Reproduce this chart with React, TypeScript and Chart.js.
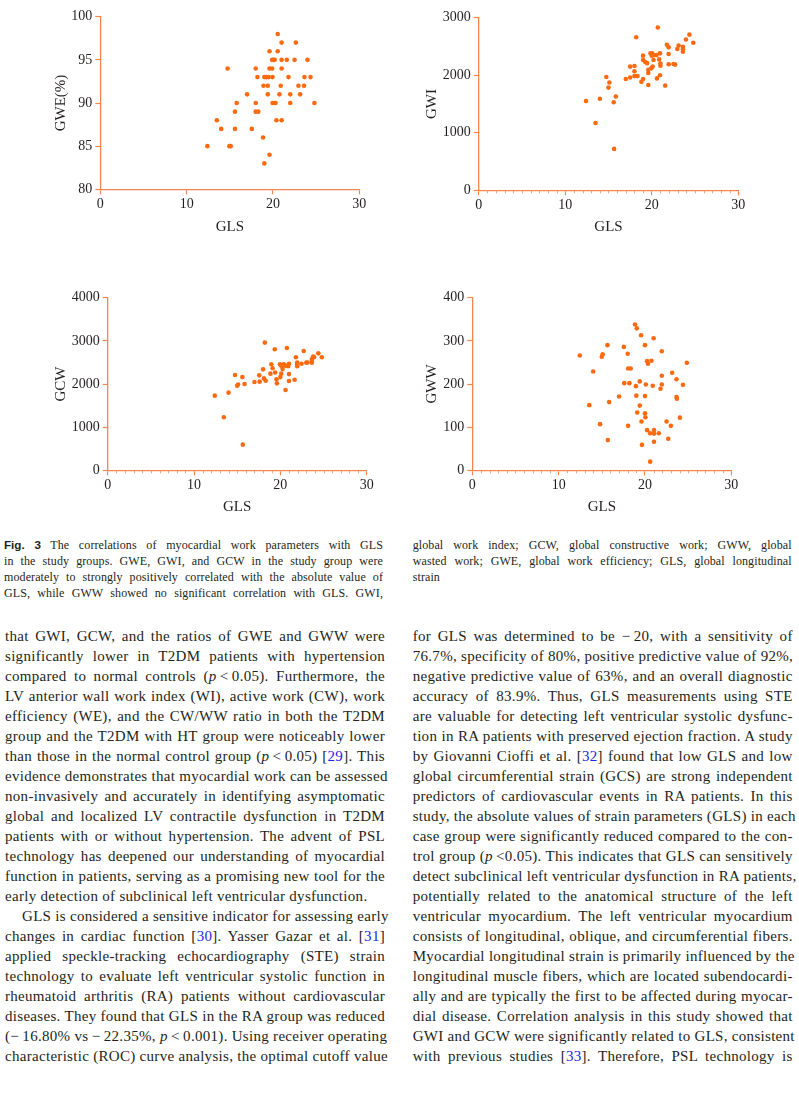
import React, { useEffect, useRef } from 'react';
import { Chart, registerables } from 'chart.js';

Chart.register(...registerables);

// ---------- data ----------
const glsTicks = [0, 10, 20, 30];
const gweTicks = [80, 85, 90, 95, 100];
const gwiTicks = [0, 1000, 2000, 3000];
const gcwTicks = [0, 1000, 2000, 3000, 4000];
const gwwTicks = [0, 100, 200, 300, 400];

const gweGLS = [12.4, 13.5, 14.0, 14.75, 14.95, 15.1, 15.6, 15.6, 15.8, 17.0, 17.55, 18.0, 18.0, 18.0, 18.3, 18.2, 18.85, 18.9, 19.0, 19.25, 19.5, 19.0, 19.4, 19.4, 19.6, 19.6, 19.9, 19.6, 19.9, 20.05, 20.2, 19.95, 19.95, 20.15, 20.3, 20.4, 20.55, 20.55, 20.75, 20.9, 21.0, 21.0, 21.0, 21.0, 21.6, 21.8, 22.0, 22.0, 22.5, 22.65, 22.95, 23.15, 23.6, 23.65, 24.0, 24.35, 24.8];
const gweValues = [85, 88, 87, 94, 85, 85, 89, 87, 90, 91, 87, 94, 90, 89, 89, 93, 86, 92, 93, 93, 93, 83, 91, 92, 96, 94, 94, 84, 95, 95, 95, 93, 90, 90, 90, 88, 98, 96, 91, 92, 97, 95, 94, 88, 95, 93, 91, 90, 95, 97, 92, 91, 92, 93, 95, 93, 90];

const gwiGLS = [12.4, 13.5, 14.0, 14.75, 15.0, 15.1, 15.6, 15.65, 15.85, 17.0, 17.5, 17.5, 18.0, 18.0, 18.0, 18.35, 18.2, 18.8, 19.0, 19.0, 19.0, 19.25, 19.45, 19.6, 19.6, 19.6, 19.85, 20.05, 20.0, 19.95, 20.1, 20.2, 20.3, 20.55, 20.6, 20.7, 20.85, 20.95, 20.95, 21.0, 21.0, 21.55, 21.75, 21.95, 21.95, 21.95, 22.5, 22.7, 22.95, 23.1, 23.6, 23.6, 23.6, 23.95, 24.35, 24.8];
const gwiValues = [1550, 1170, 1590, 1970, 1785, 1875, 1530, 720, 1630, 1935, 1960, 2150, 2070, 2160, 1985, 1985, 2660, 1885, 1935, 2340, 2265, 2230, 2210, 2095, 2040, 1830, 2380, 2380, 2340, 2120, 2150, 2265, 2350, 2350, 1945, 2830, 2275, 2380, 2000, 2205, 2165, 1820, 2530, 2485, 2370, 2190, 2195, 2185, 2455, 2515, 2495, 2450, 2410, 2620, 2705, 2565];

const gcwGLS = [12.4, 13.45, 14.0, 14.75, 15.0, 15.1, 15.6, 15.65, 15.85, 17.0, 17.55, 17.6, 18.0, 18.1, 18.3, 18.2, 18.85, 18.95, 19.1, 19.35, 19.4, 19.55, 19.6, 19.95, 20.1, 20.0, 20.1, 20.25, 20.25, 20.4, 20.6, 20.6, 20.75, 20.9, 21.0, 21.0, 21.0, 21.65, 21.8, 21.95, 21.95, 21.95, 22.45, 22.7, 23.0, 23.15, 23.65, 23.65, 23.8, 23.65, 23.9, 24.4, 24.8];
const gcwValues = [1730, 1230, 1800, 2210, 1960, 1990, 2160, 595, 2000, 2045, 2200, 2055, 2340, 2130, 2075, 2960, 2240, 2455, 2365, 2805, 2265, 2110, 2015, 2455, 2425, 2160, 2240, 2345, 2440, 2455, 2425, 1860, 2835, 2410, 2230, 2070, 2470, 2100, 2620, 2500, 2455, 2410, 2470, 2765, 2495, 2500, 2495, 2580, 2635, 2540, 2620, 2710, 2620];

const gwwGLS = [12.45, 13.55, 14.0, 14.8, 15.0, 15.1, 15.65, 15.7, 15.85, 17.0, 17.55, 17.6, 18.0, 18.05, 18.35, 18.05, 18.2, 18.85, 18.95, 19.0, 19.05, 19.1, 19.4, 19.4, 19.55, 19.6, 19.65, 20.0, 20.0, 20.0, 20.05, 20.1, 20.25, 20.35, 20.25, 20.6, 20.6, 20.75, 20.9, 21.0, 21.05, 21.05, 21.05, 21.6, 21.8, 21.95, 21.95, 21.95, 22.5, 22.7, 23.0, 23.15, 23.65, 23.65, 23.7, 24.05, 24.4, 24.85];
const gwwValues = [266, 151, 229, 107, 263, 269, 290, 70, 158, 171, 286, 202, 270, 236, 236, 103, 202, 338, 195, 173, 329, 134, 206, 150, 313, 113, 59, 290, 172, 132, 123, 199, 253, 247, 93, 86, 20, 254, 196, 306, 93, 85, 66, 86, 189, 276, 219, 199, 113, 73, 103, 226, 211, 170, 166, 122, 198, 249];

// ---------- text ----------
const captionLeft = [
  '#Fig. 3# The correlations of myocardial work parameters with GLS',
  'in the study groups. GWE, GWI, and GCW in the study group were',
  'moderately to strongly positively correlated with the absolute value of',
  'GLS, while GWW showed no significant correlation with GLS. GWI,',
];
const captionRight = [
  'global work index; GCW, global constructive work; GWW, global',
  'wasted work; GWE, global work efficiency; GLS, global longitudinal',
  'strain|',
];
const bodyLeft = [
  'that GWI, GCW, and the ratios of GWE and GWW were',
  'significantly lower in T2DM patients with hypertension',
  'compared to normal controls (*p*\u2009<\u20090.05). Furthermore, the',
  'LV anterior wall work index (WI), active work (CW), work',
  'efficiency (WE), and the CW/WW ratio in both the T2DM',
  'group and the T2DM with HT group were noticeably lower',
  'than those in the normal control group (*p*\u2009<\u20090.05) [{29}]. This',
  'evidence demonstrates that myocardial work can be assessed',
  'non-invasively and accurately in identifying asymptomatic',
  'global and localized LV contractile dysfunction in T2DM',
  'patients with or without hypertension. The advent of PSL',
  'technology has deepened our understanding of myocardial',
  'function in patients, serving as a promising new tool for the',
  'early detection of subclinical left ventricular dysfunction.|',
  '>GLS is considered a sensitive indicator for assessing early',
  'changes in cardiac function [{30}]. Yasser Gazar et al. [{31}]',
  'applied speckle-tracking echocardiography (STE) strain',
  'technology to evaluate left ventricular systolic function in',
  'rheumatoid arthritis (RA) patients without cardiovascular',
  'diseases. They found that GLS in the RA group was reduced',
  '(\u2212\u200916.80% vs\u2009\u2212\u200922.35%, *p*\u2009<\u20090.001). Using receiver operating',
  'characteristic (ROC) curve analysis, the optimal cutoff value',
];
const bodyRight = [
  'for GLS was determined to be \u2212\u200920, with a sensitivity of',
  '76.7%, specificity of 80%, positive predictive value of 92%,',
  'negative predictive value of 63%, and an overall diagnostic',
  'accuracy of 83.9%. Thus, GLS measurements using STE',
  'are valuable for detecting left ventricular systolic dysfunc-',
  'tion in RA patients with preserved ejection fraction. A study',
  'by Giovanni Cioffi et al. [{32}] found that low GLS and low',
  'global circumferential strain (GCS) are strong independent',
  'predictors of cardiovascular events in RA patients. In this',
  'study, the absolute values of strain parameters (GLS) in each',
  'case group were significantly reduced compared to the con-',
  'trol group (*p*\u2009<0.05). This indicates that GLS can sensitively',
  'detect subclinical left ventricular dysfunction in RA patients,',
  'potentially related to the anatomical structure of the left',
  'ventricular myocardium. The left ventricular myocardium',
  'consists of longitudinal, oblique, and circumferential fibers.',
  'Myocardial longitudinal strain is primarily influenced by the',
  'longitudinal muscle fibers, which are located subendocardi-',
  'ally and are typically the first to be affected during myocar-',
  'dial disease. Correlation analysis in this study showed that',
  'GWI and GCW were significantly related to GLS, consistent',
  'with previous studies [{33}]. Therefore, PSL technology is',
];

// ---------- style ----------
const AXIS = '#F5874E';
const DOT = '#FC6A10';
const INK = '#231F20';
const LINK = '#2424E0';
const SERIF = '"Liberation Serif", "Times New Roman", serif';
const SANS = '"Liberation Sans", Arial, sans-serif';

const minorTicksPlugin = {
  id: 'minorTicks',
  afterDraw(chart: any, _args: any, opts: any) {
    if (!opts || !opts.step) return;
    const s = chart.scales.x;
    const ctx = chart.ctx;
    ctx.save();
    ctx.strokeStyle = AXIS;
    ctx.globalAlpha = 0.75;
    ctx.lineWidth = 1;
    for (let v = s.min; v <= s.max; v += opts.step) {
      if (glsTicks.includes(v)) continue;
      const px = Math.round(s.getPixelForValue(v)) + 0.5;
      ctx.beginPath();
      ctx.moveTo(px, s.top);
      ctx.lineTo(px, s.top + 3);
      ctx.stroke();
    }
    ctx.restore();
  },
};

type Box = { left: number; top: number; width: number; height: number };
type Area = { left: number; top: number; right: number; bottom: number };

const TICK_SIZE = 14;
const TITLE_SIZE = 15;

function Scatter(props: {
  box: Box; area: Area; xs: number[]; ys: number[]; yTicks: number[];
  yTitle: string; yTitleX: number; xTitleY: number; minor: boolean;
}) {
  const ref = useRef<HTMLCanvasElement>(null);
  const { box, area, xs, ys, yTicks, yTitle, yTitleX, xTitleY, minor } = props;
  useEffect(() => {
    const aL = area.left - box.left;
    const aT = area.top - box.top;
    const aR = area.right - box.left;
    const aB = area.bottom - box.top;
    const titleHalf = TITLE_SIZE * 1.2 / 2;
    const chart = new Chart(ref.current!, {
      type: 'scatter',
      data: {
        datasets: [{
          data: xs.map((x, i) => ({ x, y: ys[i] })),
          backgroundColor: DOT,
          borderWidth: 0,
          pointRadius: 2.3,
        }],
      },
      plugins: [minorTicksPlugin],
      options: {
        animation: false,
        responsive: false,
        devicePixelRatio: 1,
        layout: { padding: { left: 0, top: aT, right: box.width - aR, bottom: 0 } },
        plugins: {
          legend: { display: false },
          tooltip: { enabled: false },
          minorTicks: { step: minor ? 1 : 0 },
        } as any,
        scales: {
          x: {
            type: 'linear',
            position: 'bottom',
            min: glsTicks[0],
            max: glsTicks[glsTicks.length - 1],
            afterBuildTicks: (s: any) => { s.ticks = glsTicks.map((v) => ({ value: v })); },
            afterFit: (s: any) => { s.height = box.height - aB; },
            grid: { display: true, drawOnChartArea: false, drawTicks: true, tickLength: 5, tickColor: AXIS, tickWidth: 1.2 },
            border: { display: true, color: AXIS, width: 1.3 },
            ticks: { color: INK, font: { family: SERIF, size: TICK_SIZE }, padding: 2, maxRotation: 0, autoSkip: false, callback: (v: any) => String(v) },
            title: {
              display: true, text: 'GLS', color: INK, font: { family: SERIF, size: TITLE_SIZE },
              padding: { top: 0, bottom: box.height - (xTitleY - box.top) - titleHalf },
            },
          },
          y: {
            type: 'linear',
            min: yTicks[0],
            max: yTicks[yTicks.length - 1],
            afterBuildTicks: (s: any) => { s.ticks = yTicks.map((v) => ({ value: v })); },
            afterFit: (s: any) => { s.width = aL; },
            grid: { display: true, drawOnChartArea: false, drawTicks: true, tickLength: 5, tickColor: AXIS, tickWidth: 1.2 },
            border: { display: true, color: AXIS, width: 1.3 },
            ticks: { color: INK, font: { family: SERIF, size: TICK_SIZE }, padding: 3, autoSkip: false, callback: (v: any) => String(v) },
            title: {
              display: true, text: yTitle, color: INK, font: { family: SERIF, size: TITLE_SIZE },
              padding: { top: (yTitleX - box.left) - titleHalf, bottom: 0 },
            },
          },
        },
      } as any,
    });
    return () => chart.destroy();
  }, []);
  return (
    <canvas
      ref={ref}
      width={box.width}
      height={box.height}
      style={{ position: 'absolute', left: box.left, top: box.top, width: box.width, height: box.height }}
    />
  );
}

function rich(s: string) {
  const parts = s.split(/(\*[^*]+\*|\{[^}]+\}|#[^#]+#)/);
  return parts.map((p, i) => {
    if (p.length > 1 && p[0] === '*' && p[p.length - 1] === '*') return <i key={i}>{p.slice(1, -1)}</i>;
    if (p.length > 1 && p[0] === '{') return <span key={i} style={{ color: LINK }}>{p.slice(1, -1)}</span>;
    if (p.length > 1 && p[0] === '#') return <b key={i} style={{ fontFamily: SANS, fontSize: '0.97em', letterSpacing: 0 }}>{p.slice(1, -1)}</b>;
    return <React.Fragment key={i}>{p}</React.Fragment>;
  });
}

function TextBlock(props: { lines: string[]; left: number; top: number; width: number; lh: number; fs: number; ls: number }) {
  const { lines, left, top, width, lh, fs, ls } = props;
  return (
    <div style={{ position: 'absolute', left, top, width, fontFamily: SERIF, fontSize: fs, lineHeight: lh + 'px', color: INK, letterSpacing: ls }}>
      {lines.map((raw, i) => {
        let t = raw;
        let indent = 0;
        let last = false;
        if (t.startsWith('>')) { indent = 17; t = t.slice(1); }
        if (t.endsWith('|')) { last = true; t = t.slice(0, -1); }
        return (
          <div
            key={i}
            style={{
              height: lh,
              whiteSpace: 'nowrap',
              textAlign: last ? 'left' : 'justify',
              textAlignLast: last ? 'left' : 'justify',
              paddingLeft: indent,
            } as any}
          >
            {rich(t)}
          </div>
        );
      })}
    </div>
  );
}

export default function App() {
  return (
    <div style={{ position: 'absolute', left: 0, top: 0, width: 799, height: 1102, background: '#fff', overflow: 'hidden' }}>
      <Scatter box={{ left: 40, top: 0, width: 340, height: 240 }} area={{ left: 100.3, top: 16.7, right: 359.3, bottom: 189.3 }}
        xs={gweGLS} ys={gweValues} yTicks={gweTicks} yTitle="GWE(%)" yTitleX={60.7} xTitleY={226.7} minor={false} />
      <Scatter box={{ left: 420, top: 0, width: 379, height: 240 }} area={{ left: 478.7, top: 17.7, right: 738.3, bottom: 190.3 }}
        xs={gwiGLS} ys={gwiValues} yTicks={gwiTicks} yTitle="GWI" yTitleX={432} xTitleY={226.7} minor={true} />
      <Scatter box={{ left: 40, top: 285, width: 340, height: 235 }} area={{ left: 107.7, top: 297.7, right: 366.7, bottom: 470.3 }}
        xs={gcwGLS} ys={gcwValues} yTicks={gcwTicks} yTitle="GCW" yTitleX={60.7} xTitleY={506.7} minor={true} />
      <Scatter box={{ left: 420, top: 285, width: 379, height: 235 }} area={{ left: 472.3, top: 297.7, right: 731.3, bottom: 470.3 }}
        xs={gwwGLS} ys={gwwValues} yTicks={gwwTicks} yTitle="GWW" yTitleX={432} xTitleY={506.7} minor={true} />
      <TextBlock lines={captionLeft} left={4} top={537} width={379} lh={16} fs={12} ls={0.1} />
      <TextBlock lines={captionRight} left={412.7} top={537} width={379} lh={16} fs={12} ls={0.1} />
      <TextBlock lines={bodyLeft} left={5} top={626} width={380} lh={20} fs={15} ls={0.3} />
      <TextBlock lines={bodyRight} left={412.7} top={626} width={380} lh={20} fs={15} ls={0.3} />
    </div>
  );
}
